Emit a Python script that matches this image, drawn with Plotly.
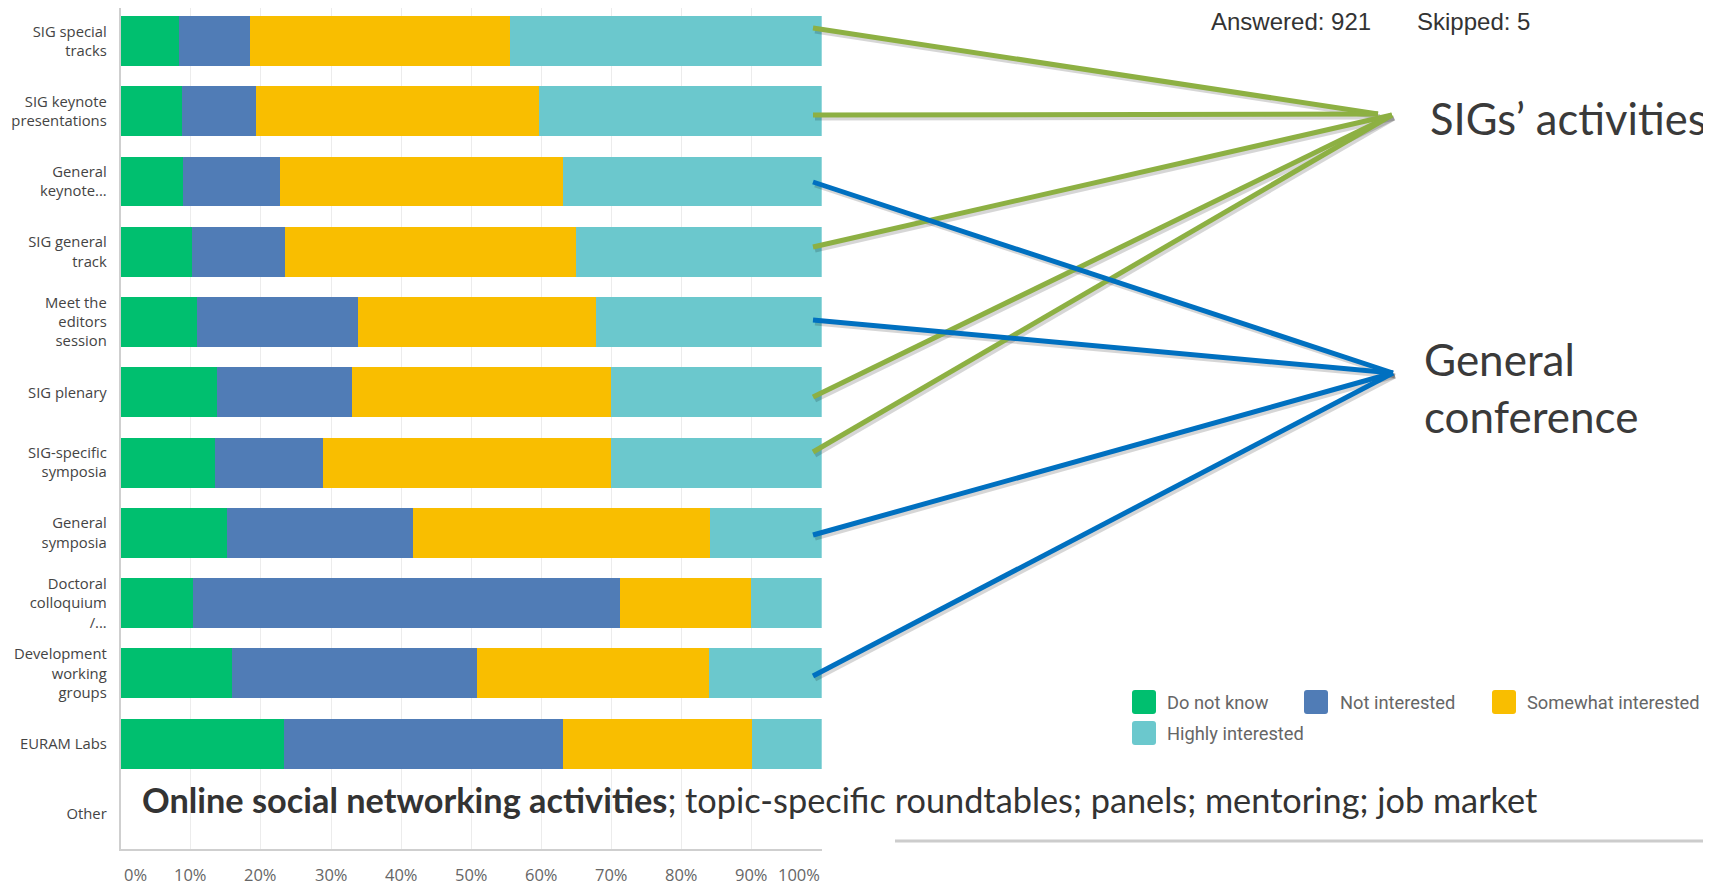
import plotly.graph_objects as go

W, H = 1711, 886
OFF = 8                      # browser body margin
FW, FH = W - OFF, H - OFF    # figure size so that page fits the window

categories = [
    "SIG special<br>tracks", "SIG keynote<br>presentations", "General<br>keynote...",
    "SIG general<br>track", "Meet the<br>editors<br>session", "SIG plenary",
    "SIG-specific<br>symposia", "General<br>symposia", "Doctoral<br>colloquium<br>/...",
    "Development<br>working<br>groups", "EURAM Labs", "Other",
]
do_not_know    = [8.3, 8.7, 8.9, 10.1, 10.9, 13.7, 13.5, 15.1, 10.3, 15.9, 23.3, None]
not_interested = [10.2, 10.6, 13.8, 13.4, 22.9, 19.3, 15.3, 26.6, 60.9, 34.9, 39.8, None]
somewhat       = [37.0, 40.4, 40.4, 41.4, 34.0, 37.0, 41.2, 42.3, 18.7, 33.1, 26.9, None]
highly         = [44.5, 40.3, 36.9, 35.1, 32.2, 30.0, 30.0, 16.0, 10.1, 16.1, 10.0, None]

series_names = ["Do not know", "Not interested", "Somewhat interested", "Highly interested"]
series_colors = ["#00BF6F", "#507CB6", "#F9BE00", "#6BC8CD"]

tick_vals = [0, 10, 20, 30, 40, 50, 60, 70, 80, 90, 100]
tick_labels = ["0%", "10%", "20%", "30%", "40%", "50%", "60%", "70%", "80%", "90%", "100%"]

answered_text = "Answered: 921"
skipped_text = "Skipped: 5"
group_labels = ["SIGs’ activities", "General<br>conference"]
other_text = "<b>Online social networking activities</b>; topic-specific roundtables; panels; mentoring; job market"


def px(x):
    return (x - OFF) / FW


def py(y):
    return 1 - (y - OFF) / FH


fig = go.Figure()
for name, vals, col in zip(series_names, [do_not_know, not_interested, somewhat, highly], series_colors):
    fig.add_trace(go.Bar(
        y=categories, x=vals, name=name, orientation="h",
        marker=dict(color=col, line=dict(width=0)), showlegend=False,
    ))

PLOT_L, PLOT_R, PLOT_T, PLOT_B = 120.7, 821.7, 8, 849

fig.update_layout(
    width=FW, height=FH,
    margin=dict(l=0, r=0, t=0, b=0),
    paper_bgcolor="white", plot_bgcolor="white",
    barmode="stack", bargap=0.29,
    font=dict(family="Open Sans", color="#555"),
    xaxis=dict(
        domain=[px(PLOT_L), px(PLOT_R)], range=[0, 100], tickvals=tick_vals,
        showticklabels=False, showgrid=True, gridcolor="#ececec", gridwidth=1,
        zeroline=False, showline=True, linecolor="#cfcfcf", linewidth=2,
        automargin=False, fixedrange=True,
    ),
    yaxis=dict(
        domain=[py(PLOT_B), py(PLOT_T)], range=[11.5, -0.47],
        showline=True, linecolor="#cfcfcf", linewidth=2, ticks="",
        ticklabelstandoff=9, tickfont=dict(size=14.8, color="#444", family="Open Sans"),
        showgrid=False, automargin=False, fixedrange=True,
    ),
)

annotations = []
for v, t in zip(tick_vals, tick_labels):
    anchor = "left" if v == 0 else ("right" if v == 100 else "center")
    annotations.append(dict(
        x=v, xref="x", y=py(874), yref="paper", text=t, showarrow=False,
        xanchor=anchor, yanchor="middle", xshift=(1 if v == 0 else 0),
        font=dict(size=16.5, color="#666", family="Open Sans"),
    ))

annotations.append(dict(x=px(1209), y=py(22), xref="paper", yref="paper", text=answered_text,
                        showarrow=False, xanchor="left", yanchor="middle",
                        font=dict(size=24, color="#333", family="Liberation Sans")))
annotations.append(dict(x=px(1415), y=py(22), xref="paper", yref="paper", text=skipped_text,
                        showarrow=False, xanchor="left", yanchor="middle",
                        font=dict(size=24, color="#333", family="Liberation Sans")))
annotations.append(dict(x=px(1428), y=py(118), xref="paper", yref="paper", text=group_labels[0],
                        showarrow=False, xanchor="left", yanchor="middle",
                        font=dict(size=43.5, color="#3a3a3a", family="Lato")))
annotations.append(dict(x=px(1422), y=py(387), xref="paper", yref="paper", text=group_labels[1],
                        showarrow=False, xanchor="left", yanchor="middle", align="left",
                        font=dict(size=44, color="#3a3a3a", family="Lato")))
annotations.append(dict(x=px(140), y=py(799), xref="paper", yref="paper", text=other_text,
                        showarrow=False, xanchor="left", yanchor="middle",
                        font=dict(size=34.3, color="#333", family="Lato")))

shapes = []
legend_items = [(1132, 702, 1165), (1304, 702, 1338), (1492, 702, 1525), (1132, 733, 1165)]
for (sx, sy, tx), name, col in zip(legend_items, series_names, series_colors):
    s = 24
    r = 3
    x0, x1, y0, y1 = sx, sx + s, sy - s / 2, sy + s / 2
    path = (f"M {px(x0 + r)},{py(y0)} L {px(x1 - r)},{py(y0)} Q {px(x1)},{py(y0)} {px(x1)},{py(y0 + r)} "
            f"L {px(x1)},{py(y1 - r)} Q {px(x1)},{py(y1)} {px(x1 - r)},{py(y1)} "
            f"L {px(x0 + r)},{py(y1)} Q {px(x0)},{py(y1)} {px(x0)},{py(y1 - r)} "
            f"L {px(x0)},{py(y0 + r)} Q {px(x0)},{py(y0)} {px(x0 + r)},{py(y0)} Z")
    shapes.append(dict(type="path", path=path, xref="paper", yref="paper",
                       fillcolor=col, line=dict(width=0), layer="above"))
    annotations.append(dict(x=px(tx), y=py(sy), xref="paper", yref="paper", text=name,
                            showarrow=False, xanchor="left", yanchor="middle",
                            font=dict(size=18.3, color="#666", family="Roboto")))

shapes.append(dict(type="line", xref="paper", yref="paper", x0=px(895), x1=px(1711),
                   y0=py(841), y1=py(841), line=dict(color="#cccccc", width=3)))

green = "#8DB043"
blue = "#0070C0"
connectors = [
    ((813, 28), (1378, 114), green),
    ((813, 115), (1378, 114), green),
    ((813, 247), (1392, 115), green),
    ((813, 397), (1392, 115), green),
    ((813, 452), (1392, 115), green),
    ((813, 182), (1393, 373), blue),
    ((813, 320), (1393, 373), blue),
    ((813, 535), (1393, 373), blue),
    ((813, 676), (1393, 373), blue),
]
for (a, b, col) in connectors:
    shapes.append(dict(type="line", xref="paper", yref="paper",
                       x0=px(a[0] + 2), y0=py(a[1] + 3), x1=px(b[0] + 2), y1=py(b[1] + 3),
                       line=dict(color="rgba(0,0,0,0.16)", width=5), layer="above"))
for (a, b, col) in connectors:
    shapes.append(dict(type="line", xref="paper", yref="paper",
                       x0=px(a[0]), y0=py(a[1]), x1=px(b[0]), y1=py(b[1]),
                       line=dict(color=col, width=5), layer="above"))

fig.update_layout(annotations=annotations, shapes=shapes)
fig.write_html("out.html")
